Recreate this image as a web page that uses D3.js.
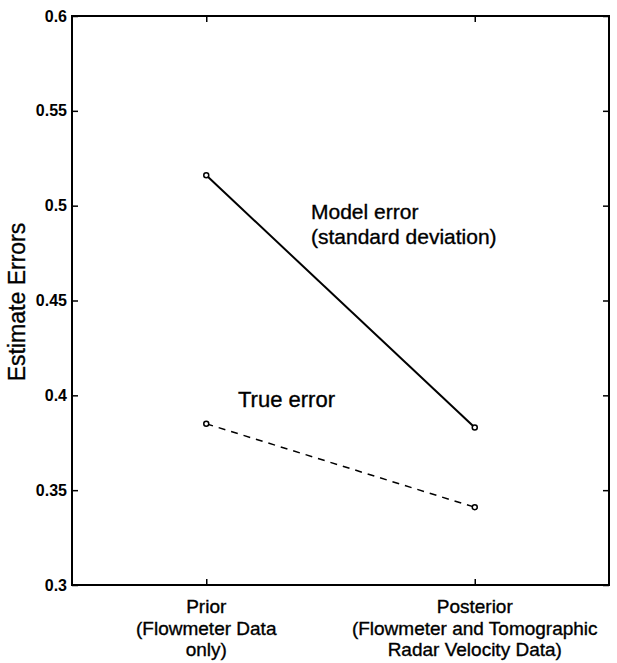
<!DOCTYPE html>
<html><head><meta charset="utf-8">
<script src="https://cdn.jsdelivr.net/npm/d3@7"></script>
<style>body{margin:0;background:#fff}text{font-family:"Liberation Sans",Arial,sans-serif;fill:#000}</style>
</head><body>
<script>
const categories = [1, 2];
const categoryLabels = [["Prior","(Flowmeter Data","only)"],["Posterior","(Flowmeter and Tomographic","Radar Velocity Data)"]];
const modelError = [0.516, 0.383];
const trueError = [0.385, 0.341];
const yTicks = [0.3, 0.35, 0.4, 0.45, 0.5, 0.55, 0.6];

const W = 617, H = 663;
const m = {left:72, right:8, top:16, bottom:78};
const svg = d3.select("body").append("svg").attr("width",W).attr("height",H);
const x = d3.scaleLinear().domain([0.5,2.5]).range([m.left, W-m.right]);
const y = d3.scaleLinear().domain([0.3,0.6]).range([H-m.bottom, m.top]);

// box
svg.append("rect").attr("x",m.left).attr("y",m.top).attr("width",W-m.right-m.left).attr("height",H-m.bottom-m.top)
  .attr("fill","none").attr("stroke","#000").attr("stroke-width",2);

// axes
const yl = svg.append("g").attr("transform",`translate(${m.left},0)`)
  .call(d3.axisLeft(y).tickValues(yTicks).tickSize(-6).tickPadding(5).tickFormat(d=>String(+d.toFixed(2))));
const yr = svg.append("g").attr("transform",`translate(${W-m.right},0)`)
  .call(d3.axisRight(y).tickValues(yTicks).tickSize(-6).tickFormat(""));
const xb = svg.append("g").attr("transform",`translate(0,${H-m.bottom})`)
  .call(d3.axisBottom(x).tickValues(categories).tickSize(-6).tickFormat(""));
const xt = svg.append("g").attr("transform",`translate(0,${m.top})`)
  .call(d3.axisTop(x).tickValues(categories).tickSize(-6).tickFormat(""));
[yl,yr,xb,xt].forEach(g=>{g.select(".domain").remove();g.selectAll("line").attr("stroke","#000").attr("stroke-width",1.5);});
yl.selectAll("text").attr("font-size",16).attr("font-weight","bold").attr("font-family","Liberation Sans, Arial, sans-serif");

const heavy = sel => sel.attr("stroke","#000").attr("stroke-width",0.35);

// category labels
categories.forEach((c,i)=>{
  const t = svg.append("text").attr("text-anchor","middle").attr("font-size",19).call(heavy);
  categoryLabels[i].forEach((s,j)=>{
    t.append("tspan").attr("x",x(c)).attr("y",613+j*21.5).text(s);
  });
});

// y label
svg.append("text").attr("transform",`translate(25,302) rotate(-90)`)
  .attr("text-anchor","middle").attr("font-size",23).call(heavy).text("Estimate Errors");

const line = d3.line().x((d,i)=>x(categories[i])).y(d=>y(d));
svg.append("path").datum(modelError).attr("d",line).attr("fill","none").attr("stroke","#000").attr("stroke-width",2);
svg.append("path").datum(trueError).attr("d",line).attr("fill","none").attr("stroke","#000").attr("stroke-width",1.5).attr("stroke-dasharray","7,6");
[modelError,trueError].forEach(s=>{
  svg.selectAll(null).data(s).enter().append("circle")
    .attr("cx",(d,i)=>x(categories[i])).attr("cy",d=>y(d)).attr("r",2.5)
    .attr("fill","#fff").attr("stroke","#000").attr("stroke-width",1.5);
});

// annotations
svg.append("text").attr("x",311).attr("y",219).attr("font-size",21).call(heavy).text("Model error");
svg.append("text").attr("x",311).attr("y",244).attr("font-size",21).call(heavy).text("(standard deviation)");
svg.append("text").attr("x",238).attr("y",407).attr("font-size",22).call(heavy).text("True error");
</script>
</body></html>
